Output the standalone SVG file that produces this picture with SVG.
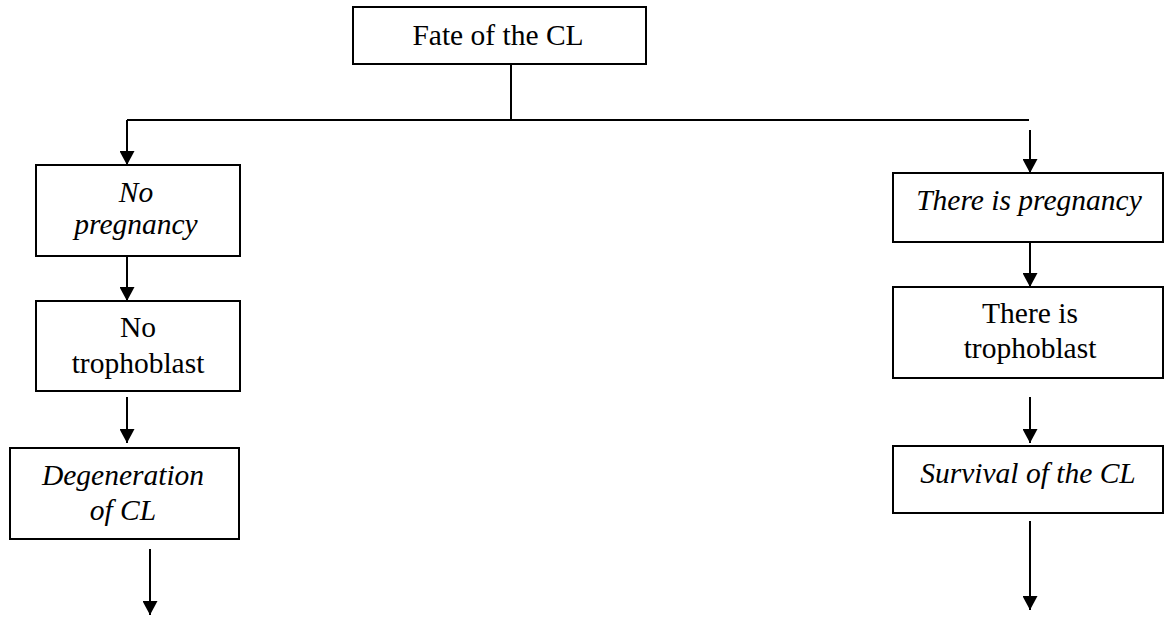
<svg xmlns="http://www.w3.org/2000/svg" width="1166" height="617" viewBox="0 0 1166 617">
  <defs>
    <marker id="arrow" viewBox="0 0 14 15" refX="14" refY="7.5" markerWidth="14" markerHeight="15" markerUnits="userSpaceOnUse" orient="auto">
      <path d="M0,0 L14,7.5 L0,15 Z" fill="#000"/>
    </marker>
    <style>
      .box { fill: #fff; stroke: #000; stroke-width: 2; }
      .lbl { font-family: "Liberation Serif", "Times New Roman", serif; font-size: 29.5px; fill: #000; text-anchor: middle; }
      .it { font-style: italic; }
      .wire { stroke: #000; stroke-width: 2; fill: none; }
      .arr { stroke: #000; stroke-width: 2; fill: none; marker-end: url(#arrow); }
    </style>
  </defs>
  <rect width="1166" height="617" fill="#fff"/>

  <!-- connectors -->
  <g id="connectors">
    <path class="wire" d="M511,64 V120"/>
    <path class="wire" d="M127,120 H1029"/>
    <path class="arr" d="M127,120 V165"/>
    <path class="arr" d="M127,256 V301"/>
    <path class="arr" d="M127,397 V443"/>
    <path class="arr" d="M150,549 V615"/>
    <path class="arr" d="M1030,130 V173"/>
    <path class="arr" d="M1030,242 V287"/>
    <path class="arr" d="M1030,397 V443"/>
    <path class="arr" d="M1030,521 V610"/>
  </g>

  <!-- root -->
  <g id="fate">
    <rect class="box" x="353" y="7" width="293" height="57"/>
    <text class="lbl" x="498" y="45">Fate of the CL</text>
  </g>

  <!-- left branch -->
  <g id="no-pregnancy">
    <rect class="box" x="36" y="165" width="204" height="91"/>
    <text class="lbl it" x="136" y="202">No</text>
    <text class="lbl it" x="136" y="234">pregnancy</text>
  </g>
  <g id="no-trophoblast">
    <rect class="box" x="36" y="301" width="204" height="90"/>
    <text class="lbl" x="138" y="337">No</text>
    <text class="lbl" x="138" y="373">trophoblast</text>
  </g>
  <g id="degeneration">
    <rect class="box" x="10" y="448" width="229" height="91"/>
    <text class="lbl it" x="123" y="485">Degeneration</text>
    <text class="lbl it" x="123" y="520">of CL</text>
  </g>

  <!-- right branch -->
  <g id="pregnancy">
    <rect class="box" x="893" y="173" width="270" height="69"/>
    <text class="lbl it" x="1029" y="210">There is pregnancy</text>
  </g>
  <g id="trophoblast">
    <rect class="box" x="893" y="287" width="270" height="91"/>
    <text class="lbl" x="1030" y="323">There is</text>
    <text class="lbl" x="1030" y="358">trophoblast</text>
  </g>
  <g id="survival">
    <rect class="box" x="893" y="446" width="270" height="67"/>
    <text class="lbl it" x="1028" y="483">Survival of the CL</text>
  </g>
</svg>
